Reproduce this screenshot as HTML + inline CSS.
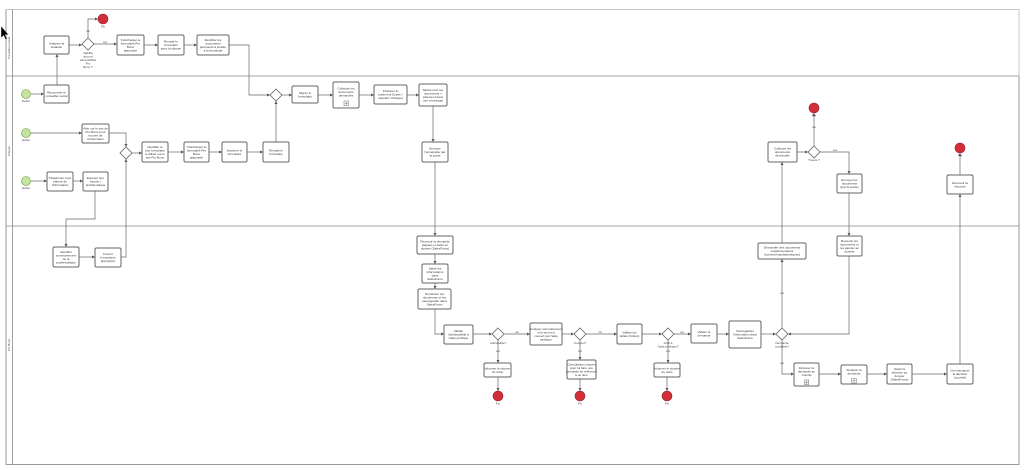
<!DOCTYPE html>
<html><head><meta charset="utf-8"><style>
html,body{margin:0;padding:0;background:#fff;width:1024px;height:470px;overflow:hidden}
svg{display:block}
.b{fill:#fff;stroke:#666;stroke-width:1}
.g{fill:#fff;stroke:#666;stroke-width:0.8}
.c{fill:none;stroke:#666;stroke-width:0.7}
.t{font-family:"Liberation Sans",sans-serif;font-size:3.1px;fill:#333;text-anchor:middle}
.l{font-family:"Liberation Sans",sans-serif;font-size:3px;fill:#444;text-anchor:middle}
.e{fill:#d22e3a;stroke:#9a1c24;stroke-width:0.6}
.s{fill:#c5e3a0;stroke:#6f9440;stroke-width:0.6}
</style></head><body>
<svg width="1024" height="470" viewBox="0 0 1024 470" xmlns="http://www.w3.org/2000/svg">
<defs>
<marker id="a" viewBox="0 0 6 6" refX="6" refY="3" markerWidth="3" markerHeight="3" markerUnits="userSpaceOnUse" orient="auto"><path d="M0,0 L6,3 L0,6 z" fill="#555"/></marker>
</defs>
<rect x="6" y="9.5" width="1013" height="455" fill="#fff" stroke="#999" stroke-width="1"/>
<line x1="6" y1="9.5" x2="1019" y2="9.5" stroke="#c8c8c8" stroke-width="1"/>
<line x1="1019" y1="9.5" x2="1019" y2="76" stroke="#c8c8c8" stroke-width="1"/>
<line x1="12.5" y1="9.5" x2="12.5" y2="464.5" stroke="#888" stroke-width="0.8"/>
<line x1="6" y1="76" x2="1019" y2="76" stroke="#888" stroke-width="0.8"/>
<line x1="6" y1="226" x2="1019" y2="226" stroke="#888" stroke-width="0.8"/>
<text class="l" transform="translate(10,48) rotate(-90)">Travailleur social</text>
<text class="l" transform="translate(10,151) rotate(-90)">Citoyen</text>
<text class="l" transform="translate(10,345) rotate(-90)">Pro Bono</text>

<g class="c">
<path d="M69,45 H82" marker-end="url(#a)"/>
<path d="M88,38 V19 H98" marker-end="url(#a)"/>
<path d="M94,44 H117" marker-end="url(#a)"/>
<path d="M144,45 H158" marker-end="url(#a)"/>
<path d="M184,45 H197" marker-end="url(#a)"/>
<path d="M229,45 H249 V95 H270" marker-end="url(#a)"/>
<path d="M31,94 H44" marker-end="url(#a)"/>
<path d="M57,85 V54" marker-end="url(#a)"/>
<path d="M31,133 H82" marker-end="url(#a)"/>
<path d="M109,133 H126 V147" marker-end="url(#a)"/>
<path d="M132,153 H142" marker-end="url(#a)"/>
<path d="M168,152 H184" marker-end="url(#a)"/>
<path d="M209,152 H222" marker-end="url(#a)"/>
<path d="M247,152 H263" marker-end="url(#a)"/>
<path d="M276,142 V101" marker-end="url(#a)"/>
<path d="M31,181 H47" marker-end="url(#a)"/>
<path d="M73,181 H83" marker-end="url(#a)"/>
<path d="M95,191 V219 H66 V247" marker-end="url(#a)"/>
<path d="M79,257 H95" marker-end="url(#a)"/>
<path d="M121,257 H126 V159" marker-end="url(#a)"/>
<path d="M282,95 H292" marker-end="url(#a)"/>
<path d="M318,95 H333" marker-end="url(#a)"/>
<path d="M359,95 H374" marker-end="url(#a)"/>
<path d="M407,95 H419" marker-end="url(#a)"/>
<path d="M433,106 V142" marker-end="url(#a)"/>
<path d="M435,162 V236" marker-end="url(#a)"/>
<path d="M435,254 V264" marker-end="url(#a)"/>
<path d="M435,283 V289" marker-end="url(#a)"/>
<path d="M435,309 V334 H444" marker-end="url(#a)"/>
<path d="M473,334 H492" marker-end="url(#a)"/>
<path d="M504,334 H530" marker-end="url(#a)"/>
<path d="M562,334 H574" marker-end="url(#a)"/>
<path d="M586,334 H617" marker-end="url(#a)"/>
<path d="M642,334 H662" marker-end="url(#a)"/>
<path d="M674,334 H691" marker-end="url(#a)"/>
<path d="M717,334 H729" marker-end="url(#a)"/>
<path d="M761,334 H776" marker-end="url(#a)"/>
<path d="M498,340 V363" marker-end="url(#a)"/>
<path d="M498,377 V391" marker-end="url(#a)"/>
<path d="M580,340 V360" marker-end="url(#a)"/>
<path d="M580,379 V391" marker-end="url(#a)"/>
<path d="M668,340 V363" marker-end="url(#a)"/>
<path d="M667,377 V391" marker-end="url(#a)"/>
<path d="M782,328 V259" marker-end="url(#a)"/>
<path d="M782,243 V162" marker-end="url(#a)"/>
<path d="M797,152 H808" marker-end="url(#a)"/>
<path d="M814,146 V113" marker-end="url(#a)"/>
<path d="M820,152 H849 V174" marker-end="url(#a)"/>
<path d="M849,193 V236" marker-end="url(#a)"/>
<path d="M849,256 V334 H788" marker-end="url(#a)"/>
<path d="M782,340 V374 H794" marker-end="url(#a)"/>
<path d="M819,374 H841" marker-end="url(#a)"/>
<path d="M867,374 H887" marker-end="url(#a)"/>
<path d="M912,374 H947" marker-end="url(#a)"/>
<path d="M960,364 V194" marker-end="url(#a)"/>
<path d="M960,175 V153" marker-end="url(#a)"/>
</g>

<g class="l" style="font-size:2.6px">
<text x="88" y="32">oui</text>
<text x="105" y="43">non</text>
<text x="517" y="333">oui</text>
<text x="498" y="352">non</text>
<text x="600" y="333">oui</text>
<text x="580" y="352">non</text>
<text x="682" y="333">oui</text>
<text x="668" y="352">non</text>
<text x="782" y="294">non</text>
<text x="782" y="364">oui</text>
<text x="814" y="128">oui</text>
<text x="835" y="151">non</text>
</g>

<circle class="e" cx="103" cy="19" r="5"/><text class="l" x="103" y="27.5">Fin</text>
<circle class="e" cx="498" cy="396" r="5"/><text class="l" x="498" y="404.5">Fin</text>
<circle class="e" cx="580" cy="396" r="5"/><text class="l" x="580" y="404.5">Fin</text>
<circle class="e" cx="667" cy="396" r="5"/><text class="l" x="667" y="404.5">Fin</text>
<circle class="e" cx="814" cy="108" r="5"/><text class="l" x="814" y="116.5">Fin</text>
<circle class="e" cx="960" cy="148" r="5"/><text class="l" x="960" y="156.5">Fin</text>
<circle class="s" cx="26" cy="94" r="4.5"/><text class="l" x="26" y="102">Début</text>
<circle class="s" cx="26" cy="133" r="4.5"/><text class="l" x="26" y="141">Début</text>
<circle class="s" cx="26" cy="181" r="4.5"/><text class="l" x="26" y="189">Début</text>

<g class="g">
<polygon points="88,38 94,44 88,50 82,44"/>
<polygon points="126,147 132,153 126,159 120,153"/>
<polygon points="276,89 282,95 276,101 270,95"/>
<polygon points="498,328 504,334 498,340 492,334"/>
<polygon points="580,328 586,334 580,340 574,334"/>
<polygon points="668,328 674,334 668,340 662,334"/>
<polygon points="782,328 788,334 782,340 776,334"/>
<polygon points="814,146 820,152 814,158 808,152"/>
</g>
<text class="l"><tspan x="88" y="54">Validité</tspan><tspan x="88" dy="3.5">accord</tspan><tspan x="88" dy="3.5">admissibilité</tspan><tspan x="88" dy="3.5">Pro</tspan><tspan x="88" dy="3.5">Bono ?</tspan></text>
<text class="l" x="498" y="344">Admissible?</text>
<text class="l" x="580" y="344">Couvert?</text>
<text class="l"><tspan x="668" y="344">Droit à</tspan><tspan x="668" dy="3.3">l'aide juridique?</tspan></text>
<text class="l"><tspan x="782" y="344">Demande</tspan><tspan x="782" dy="3.3">complète?</tspan></text>
<text class="l" x="814" y="161">Trouvé ?</text>

<g class="b">
<rect x="44" y="36" width="25" height="18" rx="1.5"/>
<rect x="117" y="35" width="27" height="20" rx="1.5"/>
<rect x="158" y="35" width="26" height="20" rx="1.5"/>
<rect x="197" y="35" width="32" height="20" rx="1.5"/>
<rect x="44" y="85" width="25" height="18" rx="1.5"/>
<rect x="82" y="124" width="27" height="19" rx="1.5"/>
<rect x="142" y="142" width="26" height="20" rx="1.5"/>
<rect x="184" y="142" width="25" height="20" rx="1.5"/>
<rect x="222" y="142" width="25" height="20" rx="1.5"/>
<rect x="263" y="142" width="26" height="20" rx="1.5"/>
<rect x="47" y="172" width="26" height="19" rx="1.5"/>
<rect x="83" y="172" width="25" height="19" rx="1.5"/>
<rect x="53" y="247" width="26" height="20" rx="1.5"/>
<rect x="95" y="248" width="26" height="19" rx="1.5"/>
<rect x="292" y="86" width="26" height="17" rx="1.5"/>
<rect x="333" y="82" width="26" height="26" rx="1.5"/>
<rect x="374" y="85" width="33" height="19" rx="1.5"/>
<rect x="419" y="84" width="28" height="22" rx="1.5"/>
<rect x="422" y="142" width="26" height="20" rx="1.5"/>
<rect x="417" y="236" width="36" height="18" rx="1.5"/>
<rect x="422" y="264" width="26" height="19" rx="1.5"/>
<rect x="418" y="289" width="33" height="20" rx="1.5"/>
<rect x="444" y="325" width="29" height="19" rx="1.5"/>
<rect x="530" y="323" width="32" height="22" rx="1.5"/>
<rect x="617" y="324" width="25" height="20" rx="1.5"/>
<rect x="691" y="324" width="26" height="19" rx="1.5"/>
<rect x="729" y="321" width="32" height="27" rx="1.5"/>
<rect x="484" y="363" width="27" height="14" rx="1.5"/>
<rect x="567" y="360" width="29" height="19" rx="1.5"/>
<rect x="654" y="363" width="26" height="14" rx="1.5"/>
<rect x="758" y="243" width="48" height="16" rx="1.5"/>
<rect x="768" y="142" width="29" height="20" rx="1.5"/>
<rect x="837" y="174" width="25" height="19" rx="1.5"/>
<rect x="837" y="236" width="25" height="20" rx="1.5"/>
<rect x="794" y="363" width="25" height="23" rx="1.5"/>
<rect x="841" y="365" width="26" height="19" rx="1.5"/>
<rect x="887" y="364" width="25" height="20" rx="1.5"/>
<rect x="947" y="364" width="26" height="20" rx="1.5"/>
<rect x="947" y="175" width="26" height="19" rx="1.5"/>
</g>
<g fill="#fff" stroke="#666" stroke-width="0.5">
<rect x="344" y="101" width="4.5" height="4.5"/><path d="M346.25,101.8 V104.7 M344.8,103.25 H347.7"/>
<rect x="804.25" y="380" width="4.5" height="4.5"/><path d="M806.5,380.8 V383.7 M805,382.25 H808"/>
<rect x="851.75" y="378.5" width="4.5" height="4.5"/><path d="M854,379.3 V382.2 M852.5,380.75 H855.5"/>
</g>

<g class="t">
<text><tspan x="56.5" y="44.35">Analyser la</tspan><tspan x="56.5" dy="3.5">situation</tspan></text>
<text><tspan x="130.5" y="40.85">Télécharger le</tspan><tspan x="130.5" dy="3.5">formulaire Pro</tspan><tspan x="130.5" dy="3.5">Bono</tspan><tspan x="130.5" dy="3.5">approprié</tspan></text>
<text><tspan x="171" y="42.6">Remplir le</tspan><tspan x="171" dy="3.5">formulaire</tspan><tspan x="171" dy="3.5">avec le citoyen</tspan></text>
<text><tspan x="213" y="40.85">Identifier les</tspan><tspan x="213" dy="3.5">documents</tspan><tspan x="213" dy="3.5">pertinents à joindre</tspan><tspan x="213" dy="3.5">à la demande</tspan></text>
<text><tspan x="56.5" y="93.35">Rencontrer le</tspan><tspan x="56.5" dy="3.5">conseiller social</tspan></text>
<text><tspan x="95.5" y="129.35">Aller sur le site de</tspan><tspan x="95.5" dy="3.5">Pro Bono pour</tspan><tspan x="95.5" dy="3.5">trouver de</tspan><tspan x="95.5" dy="3.5">l'information</tspan></text>
<text><tspan x="155" y="147.85">Identifier le</tspan><tspan x="155" dy="3.5">bon formulaire</tspan><tspan x="155" dy="3.5">à utiliser sur le</tspan><tspan x="155" dy="3.5">site Pro Bono</tspan></text>
<text><tspan x="196.5" y="147.85">Télécharger le</tspan><tspan x="196.5" dy="3.5">formulaire Pro</tspan><tspan x="196.5" dy="3.5">Bono</tspan><tspan x="196.5" dy="3.5">approprié</tspan></text>
<text><tspan x="234.5" y="151.35">Imprimer le</tspan><tspan x="234.5" dy="3.5">formulaire</tspan></text>
<text><tspan x="276" y="151.35">Remplir le</tspan><tspan x="276" dy="3.5">formulaire</tspan></text>
<text><tspan x="60" y="179.1">Téléphoner pour</tspan><tspan x="60" dy="3.5">obtenir de</tspan><tspan x="60" dy="3.5">l'information</tspan></text>
<text><tspan x="95.5" y="179.1">Exposer leur</tspan><tspan x="95.5" dy="3.5">besoin /</tspan><tspan x="95.5" dy="3.5">problématique</tspan></text>
<text><tspan x="66" y="252.85">Identifier</tspan><tspan x="66" dy="3.5">sommairement</tspan><tspan x="66" dy="3.5">de la</tspan><tspan x="66" dy="3.5">problématique</tspan></text>
<text><tspan x="108" y="255.1">Fournir</tspan><tspan x="108" dy="3.5">formulaires</tspan><tspan x="108" dy="3.5">appropriés</tspan></text>
<text><tspan x="305" y="93.85">Signer le</tspan><tspan x="305" dy="3.5">formulaire</tspan></text>
<text><tspan x="346" y="89.6">Collecter les</tspan><tspan x="346" dy="3.5">documents</tspan><tspan x="346" dy="3.5">demandés</tspan></text>
<text><tspan x="390.5" y="92.1">Préparer le</tspan><tspan x="390.5" dy="3.5">paiement (Carte /</tspan><tspan x="390.5" dy="3.5">mandat / Chèque)</tspan></text>
<text><tspan x="433" y="90.85">Mettre tous les</tspan><tspan x="433" dy="3.5">documents +</tspan><tspan x="433" dy="3.5">paiement dans</tspan><tspan x="433" dy="3.5">une enveloppe</tspan></text>
<text><tspan x="435" y="149.6">Envoyer</tspan><tspan x="435" dy="3.5">l'enveloppe par</tspan><tspan x="435" dy="3.5">la poste</tspan></text>
<text><tspan x="435" y="242.6">Recevoir la demande</tspan><tspan x="435" dy="3.5">(papier) et saisir en</tspan><tspan x="435" dy="3.5">dossier (SalesForce)</tspan></text>
<text><tspan x="435" y="269.35">Saisir les</tspan><tspan x="435" dy="3.5">informations</tspan><tspan x="435" dy="3.5">dans</tspan><tspan x="435" dy="3.5">SalesForce</tspan></text>
<text><tspan x="434.5" y="294.85">Numériser les</tspan><tspan x="434.5" dy="3.5">documents et les</tspan><tspan x="434.5" dy="3.5">sauvegarder dans</tspan><tspan x="434.5" dy="3.5">SalesForce</tspan></text>
<text><tspan x="458.5" y="332.1">Valider</tspan><tspan x="458.5" dy="3.5">l'admissibilité à</tspan><tspan x="458.5" dy="3.5">l'aide juridique</tspan></text>
<text><tspan x="546" y="329.85">Analyser sommairement</tspan><tspan x="546" dy="3.5">si le droit est</tspan><tspan x="546" dy="3.5">couvert par l'aide</tspan><tspan x="546" dy="3.5">juridique</tspan></text>
<text><tspan x="629.5" y="333.35">Valider les</tspan><tspan x="629.5" dy="3.5">délais (limites)</tspan></text>
<text><tspan x="704" y="332.85">Valider la</tspan><tspan x="704" dy="3.5">demande</tspan></text>
<text><tspan x="745" y="332.1">Sauvegarder</tspan><tspan x="745" dy="3.5">l'information dans</tspan><tspan x="745" dy="3.5">SalesForce</tspan></text>
<text><tspan x="497.5" y="369.35">Informer le citoyen</tspan><tspan x="497.5" dy="3.5">du refus</tspan></text>
<text><tspan x="581.5" y="365.35">Consultation citoyen</tspan><tspan x="581.5" dy="3.5">pour lui faire une</tspan><tspan x="581.5" dy="3.5">demande de référence</tspan><tspan x="581.5" dy="3.5">à un tiers</tspan></text>
<text><tspan x="667" y="369.35">Informer le citoyen</tspan><tspan x="667" dy="3.5">du refus</tspan></text>
<text><tspan x="782" y="248.6">Demander des documents</tspan><tspan x="782" dy="3.5">supplémentaires</tspan><tspan x="782" dy="3.5">(numéro/mandat/chèques)</tspan></text>
<text><tspan x="782.5" y="149.6">Collecter les</tspan><tspan x="782.5" dy="3.5">documents</tspan><tspan x="782.5" dy="3.5">demandés</tspan></text>
<text><tspan x="849.5" y="181.1">Envoyer les</tspan><tspan x="849.5" dy="3.5">documents</tspan><tspan x="849.5" dy="3.5">(par la poste)</tspan></text>
<text><tspan x="849.5" y="241.85">Recevoir les</tspan><tspan x="849.5" dy="3.5">documents et</tspan><tspan x="849.5" dy="3.5">les ajouter au</tspan><tspan x="849.5" dy="3.5">dossier</tspan></text>
<text><tspan x="806.5" y="369.1">Déposer la</tspan><tspan x="806.5" dy="3.5">demande au</tspan><tspan x="806.5" dy="3.5">Comité</tspan></text>
<text><tspan x="854" y="370.85">Analyser la</tspan><tspan x="854" dy="3.5">demande</tspan></text>
<text><tspan x="899.5" y="369.85">Saisir la</tspan><tspan x="899.5" dy="3.5">décision au</tspan><tspan x="899.5" dy="3.5">dossier</tspan><tspan x="899.5" dy="3.5">(SalesForce)</tspan></text>
<text><tspan x="960" y="371.6">Communiquer</tspan><tspan x="960" dy="3.5">la décision</tspan><tspan x="960" dy="3.5">(courriel)</tspan></text>
<text><tspan x="960" y="183.85">Recevoir la</tspan><tspan x="960" dy="3.5">réponse</tspan></text>
</g>

<polygon points="1,26 1,38 3.6,35.4 5.6,39.6 7.2,38.9 5.2,34.8 8.6,34.8" fill="#000" stroke="#fff" stroke-width="0.4"/>
</svg>
</body></html>
